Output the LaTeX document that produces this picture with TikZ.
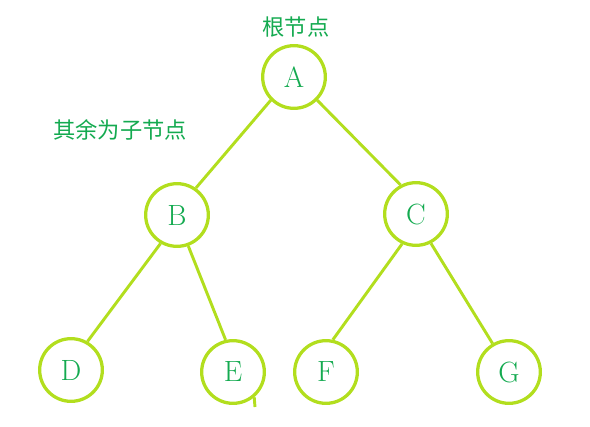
\documentclass[tikz,border=0pt]{standalone}
\usepackage{fontspec}
\newfontfamily\cjk{Noto Sans CJK SC}
\definecolor{ringgreen}{RGB}{178,222,30}
\definecolor{textgreen}{RGB}{20,170,80}
\tikzset{
  knot/.style={circle,draw=ringgreen,line width=2.8pt,minimum size=1.88cm,inner sep=0pt,
    text=textgreen,font=\fontsize{25}{30}\selectfont},
  twig/.style={draw=ringgreen,line width=2.5pt},
  note/.style={text=textgreen,font=\cjk\fontsize{19}{22}\selectfont}
}
\begin{document}
\begin{tikzpicture}[x=0.03cm,y=-0.03cm]
\useasboundingbox (0,0) rectangle (590,427);
% tree nodes
\foreach \n/\x/\y in {A/294/77,B/177/215,C/416/214,D/71/370,E/233/372,F/326/372,G/509/372}
  { \node[knot] (\n) at (\x,\y) {\n}; }
% labels
\node[note] (root) at (296,27) {根节点};
\node[note] (rest) at (120,130) {其余为子节点};
% edges
\draw[twig] (A.225) -- (B.55);
\draw[twig] (A.315) -- (C.118);
\draw[twig] (B.240) -- (D.60);
\draw[twig] (B.290) -- (E.103);
\draw[twig] (C.245) -- (F.78);
\draw[twig] (C.297) -- (G.120);
\coordinate (tail) at (255,407);
\draw[twig] (E.-50) -- (tail);
\end{tikzpicture}
\end{document}
